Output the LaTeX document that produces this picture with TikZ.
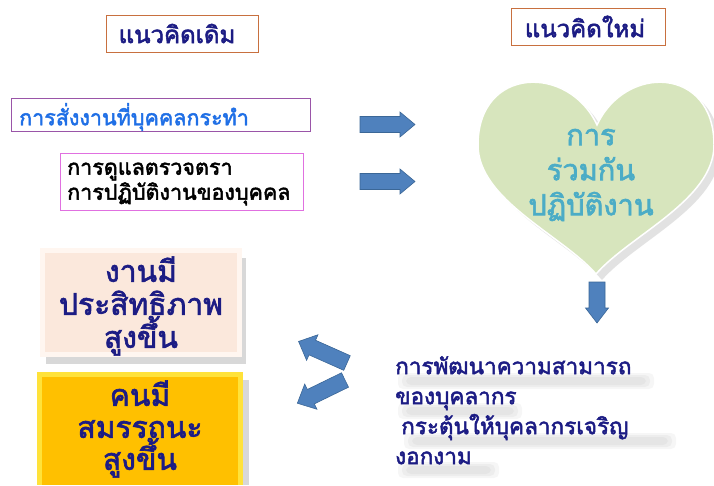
\documentclass[tikz,border=0pt]{standalone}
\usepackage{fontspec}
\newfontfamily\thai[Script=Thai, AutoFakeBold=2.2]{Loma}
\definecolor{navy}{HTML}{1C1C84}
\definecolor{tblue}{HTML}{1F6FE6}
\definecolor{boxbrown}{HTML}{C8703F}
\definecolor{boxpurple}{HTML}{9A55A8}
\definecolor{boxpink}{HTML}{E070E0}
\definecolor{hearttxt}{HTML}{4BACC6}
\definecolor{heartfill}{HTML}{D7E5BD}
\definecolor{arrfill}{HTML}{4F81BD}
\definecolor{arrdraw}{HTML}{3B6797}
\definecolor{beige}{HTML}{FBE8DC}
\definecolor{beigeedge}{HTML}{FFF6F0}
\definecolor{gold}{HTML}{FFC000}
\definecolor{goldedge}{HTML}{FFE23A}
\tikzset{
  titlebox/.style={draw=boxbrown, line width=1pt, minimum width=152, minimum height=37, text=navy, font=\thai\bfseries\fontsize{24}{28}\selectfont},
  blockarrow/.style={fill=arrfill, draw=arrdraw, line width=0.6pt},
  bigtext/.style={text=navy, align=center, inner sep=0, font=\thai\bfseries\fontsize{30}{32}\selectfont},
  smear/.style={fill=gray, opacity=0.07, rounded corners=5pt},
  lefttext/.style={anchor=west, align=left, inner sep=0, font=\thai\bfseries\fontsize{21.5}{25}\selectfont},
}
\begin{document}
\begin{tikzpicture}[x=1pt,y=-1pt]
\useasboundingbox[fill=white] (0,0) rectangle (714,485);

% titles
\node[titlebox] (old) at (182,33.5) {แนวคิดเดิม\hspace*{10pt}};
\node[titlebox, minimum width=154] (new) at (588,26.5) {แนวคิดใหม่\hspace*{6pt}};

% left boxes
\node[draw=boxpurple, line width=1pt, minimum width=299, minimum height=33] (cmd) at (160.5,114.5) {};
\node[lefttext, text=tblue] (cmdtxt) at (19,117) {การสั่งงานที่บุคคลกระทำ};
\node[draw=boxpink, line width=0.8pt, minimum width=243, minimum height=57] (supv) at (181.5,181.5) {};
\node[lefttext, text=black] (supvtxt) at (67,184) {การดูแลตรวจตรา\\การปฏิบัติงานของบุคคล};

% right arrows
\draw[blockarrow] (360,116.5) -- (400,116.5) -- (400,112) -- (415,124.5) -- (400,137) -- (400,132.5) -- (360,132.5) -- cycle;
\draw[blockarrow] (360,173.5) -- (400,173.5) -- (400,169) -- (415,181.5) -- (400,194) -- (400,189.5) -- (360,189.5) -- cycle;

% heart
\fill[gray!45, opacity=0.5] (603,131) .. controls (631,70) and (720,72) .. (720,151) .. controls (720,206) and (636,241) .. (602,280) .. controls (568,241) and (484,206) .. (484,151) .. controls (484,72) and (575,70) .. (603,131) -- cycle;
\fill[heartfill, draw=white, line width=1.5pt] (597,125) .. controls (625,64) and (714,66) .. (714,145) .. controls (714,200) and (630,235) .. (596,274) .. controls (562,235) and (478,200) .. (478,145) .. controls (478,66) and (569,64) .. (597,125) -- cycle;
\node[text=hearttxt, align=center, font=\thai\bfseries\fontsize{29}{35}\selectfont] (coop) at (591,175) {การ\\ร่วมกัน\\ปฏิบัติงาน};

% down arrow
\draw[blockarrow] (589,282) -- (605,282) -- (605,308) -- (608.5,308) -- (597,323) -- (585.5,308) -- (589,308) -- cycle;

% effect box
\fill[gray!50, opacity=0.6] (46,258) rectangle (246,364);
\fill[beigeedge] (40,248) rectangle (242,357);
\fill[beige] (45,253) rectangle (237,352);
\node[bigtext, font=\thai\bfseries\fontsize{30}{33}\selectfont] (eff) at (141,306) {งานมี\\ประสิทธิภาพ\\สูงขึ้น};

% competence box
\fill[gray!50, opacity=0.6] (43,380) rectangle (249,485);
\fill[goldedge] (37,372) rectangle (243,485);
\fill[gold] (42,377) rectangle (238,485);
\node[bigtext] (comp) at (140,429) {คนมี\\สมรรถนะ\\สูงขึ้น};

% diagonal arrows
\begin{scope}[shift={(347,363)}, rotate=156]
\draw[blockarrow] (0,-8) -- (38,-8) -- (38,-14) -- (53,0) -- (38,14) -- (38,8) -- (0,8) -- cycle;
\end{scope}
\begin{scope}[shift={(345,380)}, rotate=-154]
\draw[blockarrow] (0,-8) -- (38,-8) -- (38,-14) -- (53,0) -- (38,14) -- (38,8) -- (0,8) -- cycle;
\end{scope}

% development text shadow smears
\foreach \xa/\xb/\yc in {402/650/375, 402/518/405, 408/672/435, 402/495/464}{
  \fill[smear] (\xa,\yc) rectangle (\xb,\yc+12);
  \fill[smear] (\xa+4,\yc+2) rectangle (\xb-4,\yc+10);
  \fill[smear] (\xa-4,\yc-2) rectangle (\xb+4,\yc+14);
}
\node[anchor=north west, text=navy, align=left, font=\thai\bfseries\fontsize{22.5}{30}\selectfont, inner sep=0] (dev) at (395,356) {การพัฒนาความสามารถ\\ของบุคลากร\\\hspace*{6pt}กระตุ้นให้บุคลากรเจริญ\\งอกงาม};
\end{tikzpicture}
\end{document}
